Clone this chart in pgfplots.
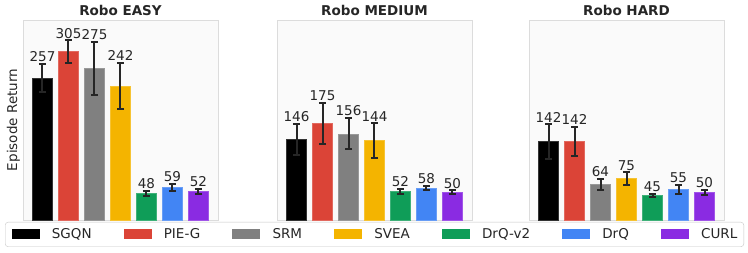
\documentclass[border=0pt]{standalone}
\usepackage{fontspec}
\setmainfont{DejaVu Sans}
\usepackage{pgfplots}
\pgfplotsset{compat=1.18}
\definecolor{cSGQN}{HTML}{000000}
\definecolor{cPIE}{HTML}{DB4437}
\definecolor{cSRM}{HTML}{808080}
\definecolor{cSVEA}{HTML}{F4B400}
\definecolor{cDrQv}{HTML}{0F9D58}
\definecolor{cDrQ}{HTML}{4285F4}
\definecolor{cCURL}{HTML}{8A2BE2}
\definecolor{errc}{HTML}{262626}
\definecolor{txt}{HTML}{262626}
\definecolor{bgc}{HTML}{FAFAFA}
\definecolor{framec}{HTML}{DCDCDC}
\newcommand{\onebar}[4]{\addplot[ybar, bar width=20pt, bar shift=0pt, fill=#1, draw=#1!80!white,
  error bars/.cd, y dir=both, y explicit,
  error bar style={color=errc, line width=2pt},
  error mark options={rotate=90, mark size=3.6pt, line width=2pt, color=errc}]
  coordinates {(#2,#3) +- (0,#4)};}
\pgfplotsset{panel/.style={
  scale only axis, width=195pt, height=200pt,
  xmin=-0.75, xmax=6.75, ymin=0, ymax=362,
  xtick=\empty, ytick=\empty,
  axis background/.style={fill=bgc},
  axis line style={framec, line width=0.8pt},
  clip=false,
  every axis title shift=0pt,
  title style={font=\fontsize{13.5}{16}\selectfont\bfseries, text=txt, at={(axis description cs:0.5,1)}, anchor=south, inner sep=4pt},
  nodes near coords style={font=\fontsize{13.5}{16}\selectfont, text=txt, anchor=south, inner sep=2pt, /pgf/number format/assume math mode=true},
  legend image code/.code={\fill[##1, draw=none, sharp corners] (0pt,-5pt) rectangle (28pt,5pt); \path (40pt,0pt);},
}}
\begin{document}
\begin{tikzpicture}[font=\fontsize{13.5}{16}\selectfont]
\path[use as bounding box] (0pt,0pt) rectangle (748pt,253pt);
% Panel 1
\begin{axis}[panel, at={(23pt,33pt)}, anchor=south west, title={Robo EASY},
  ylabel={Episode Return}, ylabel style={at={(axis description cs:-0.049,0.5)}, anchor=center, text=txt, font=\fontsize{13.5}{16}\selectfont},
  legend columns=7,
  legend style={at={(axis description cs:-0.0923,-0.01)}, anchor=north west, draw=framec!90!black, rounded corners=3pt, fill=white, inner sep=6.5pt,
    nodes={inner sep=0pt, text=txt, font=\fontsize{13.5}{16}\selectfont}, column sep=0pt,
    /tikz/every even column/.append style={column sep=32pt}},
  legend cell align=left]
\onebar{cSGQN}{0}{257}{26}
\onebar{cPIE}{1}{305}{20}
\onebar{cSRM}{2}{275}{48}
\onebar{cSVEA}{3}{242}{42}
\onebar{cDrQv}{4}{48}{4.5}
\onebar{cDrQ}{5}{59}{6}
\onebar{cCURL}{6}{52}{5}
\addplot[forget plot, only marks, mark=none, point meta=explicit, nodes near coords={\pgfmathprintnumber[fixed,precision=0,assume math mode=true]{\pgfplotspointmeta}}]
  coordinates {(0,283)[257] (1,325)[305] (2,323)[275] (3,284)[242] (4,52.5)[48] (5,65)[59] (6,57)[52]};
\legend{SGQN,PIE-G,SRM,SVEA,DrQ-v2,DrQ,CURL}
\end{axis}
% Panel 2
\begin{axis}[panel, at={(277pt,33pt)}, anchor=south west, title={Robo MEDIUM}]
\onebar{cSGQN}{0}{146}{28}
\onebar{cPIE}{1}{175}{37}
\onebar{cSRM}{2}{156}{28}
\onebar{cSVEA}{3}{144}{31}
\onebar{cDrQv}{4}{52}{5}
\onebar{cDrQ}{5}{58}{3}
\onebar{cCURL}{6}{50}{3.5}
\addplot[forget plot, only marks, mark=none, point meta=explicit, nodes near coords={\pgfmathprintnumber[fixed,precision=0,assume math mode=true]{\pgfplotspointmeta}}]
  coordinates {(0,174)[146] (1,212)[175] (2,184)[156] (3,175)[144] (4,57)[52] (5,61)[58] (6,53.5)[50]};
\end{axis}
% Panel 3
\begin{axis}[panel, at={(529pt,33pt)}, anchor=south west, title={Robo HARD}]
\onebar{cSGQN}{0}{142}{31}
\onebar{cPIE}{1}{142}{26}
\onebar{cSRM}{2}{64}{10}
\onebar{cSVEA}{3}{75}{11}
\onebar{cDrQv}{4}{45}{2.5}
\onebar{cDrQ}{5}{55}{8}
\onebar{cCURL}{6}{50}{4.5}
\addplot[forget plot, only marks, mark=none, point meta=explicit, nodes near coords={\pgfmathprintnumber[fixed,precision=0,assume math mode=true]{\pgfplotspointmeta}}]
  coordinates {(0,173)[142] (1,168)[142] (2,74)[64] (3,86)[75] (4,47.5)[45] (5,63)[55] (6,54.5)[50]};
\end{axis}
\end{tikzpicture}
\end{document}
